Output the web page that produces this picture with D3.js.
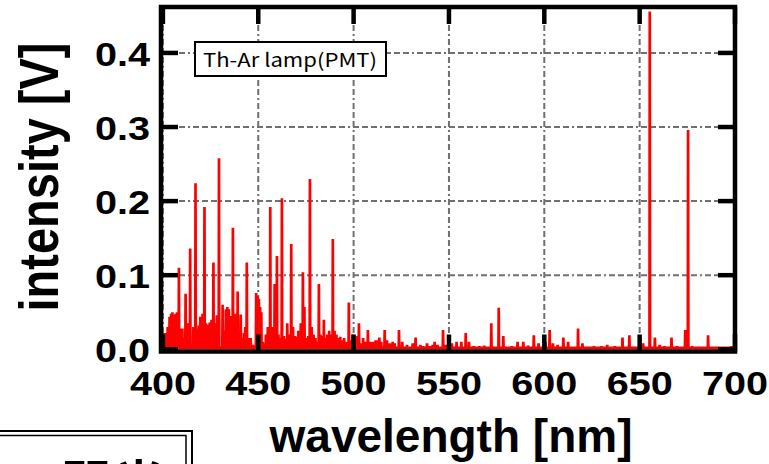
<!DOCTYPE html>
<html>
<head>
  <meta charset="utf-8">
  <script type="text/javascript" src="https://cdn.jsdelivr.net/npm/d3@7"></script>
  <style>
    body { margin: 0; background: #fff; }
    svg { display: block; }
  </style>
</head>
<body>
<svg width="769" height="464"></svg>

<script type="text/javascript">

  // axis ticks
  var wavelengthTicks = [400, 450, 500, 550, 600, 650, 700];
  var intensityTicks = [0.0, 0.1, 0.2, 0.3, 0.4];

  // emission lines: wavelength [nm] and peak intensity [V]
  var lineWl = [
    400.2, 401.5, 402.5, 403.5, 404.3, 405.0, 405.8, 406.6, 407.4, 408.4,
    409.2, 410.2, 411.0, 411.9, 412.8, 414.3, 416.0, 417.1, 418.0, 418.8,
    419.6, 420.8, 421.8, 422.6, 423.5, 424.5, 425.5, 426.5, 427.5, 428.3,
    429.4, 431.3, 432.2, 433.0, 433.8, 434.6, 435.5, 436.7, 437.5, 438.2,
    439.2, 440.0, 440.8, 441.8, 442.5, 443.2, 444.0, 445.0, 446.0, 447.2,
    448.9, 449.6, 450.3, 451.0, 451.6, 452.3, 453.2, 454.0, 455.0, 456.3,
    457.3, 458.6, 459.8, 460.6, 461.5, 462.4, 463.3, 464.3, 465.2, 466.0,
    467.3, 468.2, 469.2, 470.2, 471.0, 472.3, 473.4, 474.2, 475.2, 476.2,
    477.1, 478.0, 479.0, 480.0, 480.8, 481.8, 482.6, 483.5, 484.4, 485.3,
    486.2, 487.2, 488.2, 489.1, 490.0, 491.0, 492.0, 493.0, 494.0, 495.0,
    496.0, 497.5, 498.5, 499.5, 500.2, 501.0, 502.0, 502.8, 504.0, 505.0,
    506.0, 507.5, 508.5, 510.0, 511.5, 512.5, 513.5, 514.5, 516.3, 517.5,
    519.0, 520.5, 521.5, 523.8, 525.5, 528.0, 531.0, 532.5, 535.0, 536.5,
    538.5, 540.0, 541.5, 542.5, 544.0, 546.9, 548.5, 550.3, 551.5, 554.0,
    556.5, 558.8, 560.5, 563.0, 566.0, 568.5, 572.2, 576.1, 578.5, 583.0,
    586.0, 589.0, 591.5, 594.5, 597.0, 600.6, 602.8, 604.5, 607.0, 610.0,
    612.5, 617.7, 620.0, 626.0, 630.0, 633.0, 637.0, 641.0, 644.6, 651.8,
    655.3, 658.0, 660.5, 663.0, 666.7, 669.5, 673.9, 675.4, 677.5, 683.0,
    685.9, 698.0
  ];
  var lineInt = [
    0.022, 0.022, 0.030, 0.044, 0.048, 0.050, 0.046, 0.048, 0.050, 0.110,
    0.028, 0.028, 0.016, 0.075, 0.035, 0.136, 0.030, 0.224, 0.028, 0.032,
    0.044, 0.048, 0.192, 0.035, 0.033, 0.036, 0.040, 0.117, 0.035, 0.046,
    0.258, 0.060, 0.025, 0.054, 0.057, 0.054, 0.045, 0.164, 0.025, 0.048,
    0.078, 0.015, 0.047, 0.015, 0.022, 0.030, 0.117, 0.015, 0.015, 0.006,
    0.076, 0.072, 0.068, 0.057, 0.050, 0.010, 0.008, 0.020, 0.030, 0.192,
    0.030, 0.088, 0.126, 0.020, 0.015, 0.204, 0.018, 0.014, 0.035, 0.020,
    0.142, 0.030, 0.018, 0.017, 0.025, 0.035, 0.104, 0.057, 0.015, 0.018,
    0.230, 0.030, 0.020, 0.015, 0.010, 0.088, 0.020, 0.018, 0.040, 0.015,
    0.020, 0.025, 0.020, 0.149, 0.025, 0.020, 0.015, 0.017, 0.012, 0.015,
    0.010, 0.063, 0.012, 0.020, 0.015, 0.010, 0.018, 0.035, 0.008, 0.015,
    0.010, 0.026, 0.010, 0.010, 0.012, 0.012, 0.016, 0.010, 0.026, 0.012,
    0.008, 0.010, 0.008, 0.026, 0.010, 0.006, 0.008, 0.016, 0.006, 0.004,
    0.008, 0.004, 0.006, 0.010, 0.006, 0.026, 0.006, 0.016, 0.008, 0.010,
    0.010, 0.022, 0.010, 0.004, 0.004, 0.005, 0.035, 0.056, 0.018, 0.004,
    0.010, 0.010, 0.005, 0.019, 0.008, 0.010, 0.026, 0.008, 0.006, 0.016,
    0.010, 0.028, 0.008, 0.004, 0.004, 0.006, 0.004, 0.016, 0.019, 0.008,
    0.456, 0.016, 0.006, 0.004, 0.016, 0.004, 0.026, 0.296, 0.004, 0.003,
    0.019, 0.004
  ];
  var baseLevel = 0.002;

  var svg = d3.select("svg");

  var frame = { left: 161, right: 735, top: 7, bottom: 351.5 };

  var x = d3.scaleLinear().domain([399, 700]).range([frame.left, frame.right]);
  var y = d3.scaleLinear().domain([-0.003, 0.462]).range([frame.bottom, frame.top]);

  svg.append("clipPath").attr("id", "plot-clip")
      .append("rect")
      .attr("x", frame.left).attr("y", frame.top)
      .attr("width", frame.right - frame.left).attr("height", frame.bottom - frame.top);

  // grid
  var gridDash = "6,3,6,3,6,3,2,3";
  svg.append("g").selectAll("line").data(wavelengthTicks).enter()
      .append("line")
      .attr("x1", function(d) { return x(d); }).attr("x2", function(d) { return x(d); })
      .attr("y1", frame.top).attr("y2", frame.bottom)
      .attr("stroke", "#707070").attr("stroke-width", 2)
      .attr("stroke-dasharray", gridDash);

  svg.append("g").selectAll("line").data(intensityTicks.slice(1)).enter()
      .append("line")
      .attr("x1", frame.left).attr("x2", frame.right)
      .attr("y1", function(d) { return y(d); }).attr("y2", function(d) { return y(d); })
      .attr("stroke", "#707070").attr("stroke-width", 2)
      .attr("stroke-dasharray", gridDash);

  // spectrum
  var delta = 0.15;
  var points = [[400, baseLevel]];
  lineWl.forEach(function(wl, i) {
    points.push([wl - delta, baseLevel], [wl, lineInt[i]], [wl + delta, baseLevel]);
  });
  points.push([700, baseLevel]);

  var spectrum = d3.line()
      .x(function(d) { return x(d[0]); })
      .y(function(d) { return y(d[1]); });

  svg.append("path")
      .datum(points)
      .attr("clip-path", "url(#plot-clip)")
      .attr("fill", "none")
      .attr("stroke", "#ff0000")
      .attr("stroke-width", 2.7)
      .attr("stroke-linejoin", "bevel")
      .attr("d", spectrum);

  // frame
  svg.append("rect")
      .attr("x", frame.left).attr("y", frame.top)
      .attr("width", frame.right - frame.left).attr("height", frame.bottom - frame.top)
      .attr("fill", "none").attr("stroke", "#000").attr("stroke-width", 4.5);

  // inward ticks on all four sides
  var tickLen = 17, tickW = 4.5;
  var ticks = svg.append("g").attr("stroke", "#000").attr("stroke-width", tickW);
  wavelengthTicks.forEach(function(d) {
    ticks.append("line").attr("x1", x(d)).attr("x2", x(d)).attr("y1", frame.bottom).attr("y2", frame.bottom - tickLen);
    ticks.append("line").attr("x1", x(d)).attr("x2", x(d)).attr("y1", frame.top).attr("y2", frame.top + tickLen);
  });
  intensityTicks.forEach(function(d) {
    ticks.append("line").attr("x1", frame.left).attr("x2", frame.left + tickLen).attr("y1", y(d)).attr("y2", y(d));
    ticks.append("line").attr("x1", frame.right).attr("x2", frame.right - tickLen).attr("y1", y(d)).attr("y2", y(d));
  });

  // tick labels (glyphs are stretched wide in the original)
  var labelFont = "'Liberation Sans', Arial, sans-serif";
  svg.append("g").selectAll("text").data(wavelengthTicks).enter()
      .append("text")
      .attr("transform", function(d) { return "translate(" + x(d) + ",395) scale(1.2,1)"; })
      .attr("text-anchor", "middle")
      .attr("font-family", labelFont).attr("font-weight", "bold").attr("font-size", 33)
      .text(function(d) { return d; });

  svg.append("g").selectAll("text").data(intensityTicks).enter()
      .append("text")
      .attr("transform", function(d) { return "translate(150," + (y(d) + 13) + ") scale(1.2,1)"; })
      .attr("text-anchor", "end")
      .attr("font-family", labelFont).attr("font-weight", "bold").attr("font-size", 33)
      .text(function(d) { return d.toFixed(1); });

  // axis titles
  svg.append("text")
      .attr("x", 451).attr("y", 452)
      .attr("text-anchor", "middle")
      .attr("font-family", labelFont).attr("font-weight", "bold").attr("font-size", 46)
      .text("wavelength [nm]");

  svg.append("text")
      .attr("transform", "translate(58,177) rotate(-90) scale(1,1.2)")
      .attr("text-anchor", "middle")
      .attr("font-family", labelFont).attr("font-weight", "bold").attr("font-size", 47)
      .text("intensity [V]");

  // legend box
  var legend = svg.append("g");
  legend.append("rect")
      .attr("x", 195).attr("y", 42).attr("width", 191).attr("height", 34)
      .attr("fill", "#fff").attr("stroke", "#000").attr("stroke-width", 2);
  legend.append("text")
      .attr("x", 203).attr("y", 67)
      .attr("textLength", 174).attr("lengthAdjust", "spacingAndGlyphs")
      .attr("font-family", "'Noto Sans CJK JP', sans-serif").attr("font-size", 19)
      .text("Th-Ar lamp(PMT)");

  // caption box cut off at the bottom-left
  var caption = svg.append("g");
  caption.append("rect")
      .attr("x", -10).attr("y", 431).attr("width", 202).attr("height", 100)
      .attr("fill", "none").attr("stroke", "#000").attr("stroke-width", 2);
  caption.append("rect")
      .attr("x", -10).attr("y", 435.5).attr("width", 196).attr("height", 100)
      .attr("fill", "none").attr("stroke", "#000").attr("stroke-width", 1.5);
  caption.append("text")
      .attr("x", 8).attr("y", 502)
      .attr("letter-spacing", 3)
      .attr("font-family", "'Noto Sans CJK JP', sans-serif").attr("font-weight", "bold").attr("font-size", 50)
      .text("工開光");
</script>

</body>
</html>
